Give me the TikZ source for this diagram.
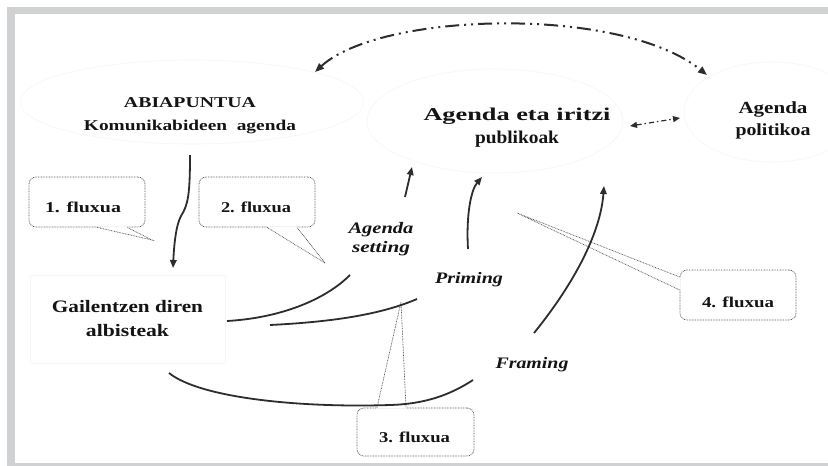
\documentclass[tikz,border=0pt]{standalone}
\usepackage{fontspec}
\usepackage{graphicx}
\setmainfont{Liberation Serif}[FakeStretch=1.2]
\usetikzlibrary{arrows.meta,calc}
\definecolor{framegray}{RGB}{208,209,211}
\definecolor{ink}{RGB}{20,20,20}
\definecolor{linec}{RGB}{45,45,45}
\definecolor{ghostc}{RGB}{246,246,246}
\newcommand{\fitw}[2]{\resizebox{#1pt}{\height}{#2}}
\tikzset{
  txt/.style={anchor=base, inner sep=0pt, text=ink, font=\bfseries\fontsize{#1}{#1}\selectfont},
  itxt/.style={anchor=base, inner sep=0pt, text=ink, font=\bfseries\itshape\fontsize{#1}{#1}\selectfont},
  fbox/.style={draw=black!65, fill=white, dash pattern=on 0.8pt off 0.8pt, line width=0.7pt, rounded corners=7pt, minimum width=116pt, minimum height=50pt, inner sep=0pt},
  ftail/.style={draw=black!65, dash pattern=on 0.8pt off 0.8pt, line width=0.7pt},
  flow/.style={draw=linec, line width=1.8pt},
  arrowhd/.style={-{Triangle[length=8pt,width=6.5pt]}},
  ghost/.style={draw=ghostc, line width=0.6pt},
}
\begin{document}
\begin{tikzpicture}[x=1pt,y=-1pt]
\useasboundingbox (0,0) rectangle (828,466);
\fill[white] (0,0) rectangle (828,466);
% frame
\fill[framegray] (7,7) rectangle (828,14);
\fill[framegray] (7,7) rectangle (15,466);
\fill[framegray] (7,463) rectangle (828,466);

% faint ghost shapes
\draw[ghost] (192,102) ellipse [x radius=172, y radius=42];
\draw[ghost] (495,121) ellipse [x radius=128, y radius=52];
\draw[ghost] (772,112) ellipse [x radius=88, y radius=50];
\draw[ghost] (30,275) rectangle (225,363);

% callouts
\node[fbox] (f1) at (87,202) {};
\node[fbox] (f2) at (257,202) {};
\node[fbox, minimum width=117pt, minimum height=48pt] (f3) at (415.5,432) {};
\node[fbox] (f4) at (738,295) {};
\coordinate (f1tip) at (152,240);
\coordinate (f2tip) at (325,263);
\coordinate (f3tip) at (401,302);
\coordinate (f4tip) at (517,213);

\fill[white] ($(f1.south)+(10,-1)$) -- (f1tip) -- ($(f1.south)+(40,-1)$) -- cycle;
\draw[ftail] ($(f1.south)+(10,0)$) -- (f1tip) -- ($(f1.south)+(40,0)$);
\fill[white] ($(f2.south)+(10,-1)$) -- (f2tip) -- ($(f2.south)+(40,-1)$) -- cycle;
\draw[ftail] ($(f2.south)+(10,0)$) -- (f2tip) -- ($(f2.south)+(40,0)$);
\fill[white] ($(f3.north)+(-38.5,1)$) -- (f3tip) -- ($(f3.north)+(-9.5,1)$) -- cycle;
\draw[ftail] ($(f3.north)+(-38.5,0)$) -- (f3tip) -- ($(f3.north)+(-9.5,0)$);
\fill[white] ($(f4.west)+(1,-18)$) -- (f4tip) -- ($(f4.west)+(1,-5)$) -- cycle;
\draw[ftail] ($(f4.west)+(0,-18)$) -- (f4tip) -- ($(f4.west)+(0,-5)$);

% texts
\node[txt=15] (abia) at (190,107) {\fitw{132}{ABIAPUNTUA}};
\node[txt=15] (komun) at (190,130) {\fitw{212}{Komunikabideen\ \ agenda}};
\node[txt=18] (pub1) at (517,120) {\fitw{187}{Agenda eta iritzi}};
\node[txt=18] (pub2) at (517,143) {\fitw{84}{publikoak}};
\node[txt=17] (pol1) at (773,113) {\fitw{69}{Agenda}};
\node[txt=17] (pol2) at (773,135) {\fitw{75}{politikoa}};
\node[txt=17.5] (gail1) at (127.5,312) {\fitw{151}{Gailentzen diren}};
\node[txt=17.5] (gail2) at (127.5,336) {\fitw{83}{albisteak}};
\node[itxt=16] (as1) at (381,233) {\fitw{65}{Agenda}};
\node[itxt=16] (as2) at (381,252) {\fitw{58}{setting}};
\node[itxt=16] (prim) at (469,283) {\fitw{68}{Priming}};
\node[itxt=16] (fram) at (532,368) {\fitw{73}{Framing}};
\node[txt=15] (l1) at (83,212.5) {\fitw{76}{1. fluxua}};
\node[txt=15] (l2) at (256,212.5) {\fitw{70}{2. fluxua}};
\node[txt=15] (l3) at (414.5,442) {\fitw{71}{3. fluxua}};
\node[txt=15] (l4) at (738,307) {\fitw{72}{4. fluxua}};

% connector coordinates
\coordinate (vs) at (190,155);
\coordinate (ve) at (173,268);
\coordinate (a1s) at (227,321);
\coordinate (a1e) at (350,275);
\coordinate (a2s) at (405,197);
\coordinate (a2e) at (412,167);
\coordinate (b1s) at (270,325);
\coordinate (b1e) at (417,299);
\coordinate (b2s) at (468,249);
\coordinate (b2e) at (482,177);
\coordinate (c1s) at (169,373);
\coordinate (c1m) at (390,405);
\coordinate (c1e) at (473,380);
\coordinate (c2s) at (534,333);
\coordinate (c2e) at (604,186);
\coordinate (topl) at (315,72);
\coordinate (topr) at (707,75);
\coordinate (dl) at (630,126);
\coordinate (dr) at (680,118);

% flows
\draw[flow, arrowhd] (vs) .. controls (190,195) and (188,205) .. (181,216) .. controls (176,225) and (174,245) .. (ve);
\draw[flow] (a1s) .. controls (280,318) and (325,300) .. (a1e);
\draw[flow, arrowhd] (a2s) -- (a2e);
\draw[flow] (b1s) .. controls (330,322) and (380,315) .. (b1e);
\draw[flow, arrowhd] (b2s) .. controls (466,215) and (471,190) .. (b2e);
\draw[flow] (c1s) .. controls (200,398) and (300,408) .. (c1m) .. controls (425,404) and (450,395) .. (c1e);
\draw[flow, arrowhd] (c2s) .. controls (565,295) and (600,240) .. (c2e);

% top dash-dot-dot arc
\draw[draw=linec, line width=2pt, {Triangle[length=9pt,width=7pt]}-{Triangle[length=9pt,width=7pt]},
  dash pattern=on 14pt off 5pt on 2pt off 5pt on 2pt off 5pt]
  (topl) .. controls (380,12) and (620,5) .. (topr);
% double arrow
\draw[draw=linec, line width=1.2pt, {Triangle[length=7pt,width=6pt]}-{Triangle[length=7pt,width=6pt]},
  dash pattern=on 5pt off 3pt on 1.5pt off 3pt] (dl) -- (dr);
\end{tikzpicture}
\end{document}
